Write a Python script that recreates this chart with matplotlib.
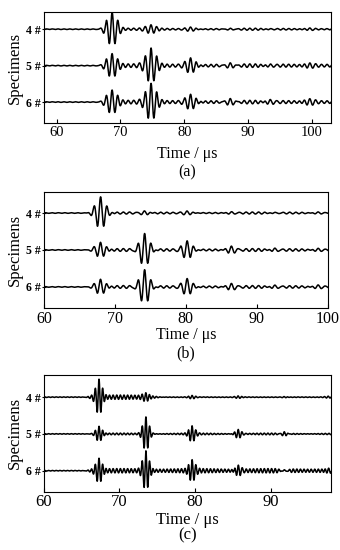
import numpy as np
import matplotlib
matplotlib.use("Agg")
import matplotlib.pyplot as plt

plt.rcParams['font.family'] = ['Liberation Serif', 'DejaVu Serif']

specimens = ['4 #', '5 #', '6 #']
panel_tags = ['(a)', '(b)', '(c)']
x_limits = [(58, 103), (60, 100), (60, 98)]
x_ticks = [[60, 70, 80, 90, 100], [60, 70, 80, 90, 100], [60, 70, 80, 90]]

# echo arrival times (us)
echo_times_a = [68.7, 74.8, 81.0, 87.2, 93.4, 99.6]
echo_times_b = [68.0, 74.2, 80.2, 86.4, 92.5, 98.6]
echo_times_c = [67.3, 73.5, 79.6, 85.7, 91.8, 97.6]

# echo amplitudes per specimen (4#, 5#, 6#), in trace-spacing units
amp_a_4 = [0.45, 0.10, 0.06, 0.05, 0.03, 0.03]
amp_a_5 = [0.30, 0.45, 0.22, 0.12, 0.07, 0.06]
amp_a_6 = [0.30, 0.48, 0.22, 0.14, 0.10, 0.08]

amp_b_4 = [0.45, 0.08, 0.06, 0.05, 0.04, 0.04]
amp_b_5 = [0.22, 0.48, 0.26, 0.13, 0.08, 0.06]
amp_b_6 = [0.22, 0.50, 0.24, 0.12, 0.08, 0.07]

amp_c_4 = [0.45, 0.08, 0.04, 0.03, 0.02, 0.02]
amp_c_5 = [0.20, 0.45, 0.20, 0.12, 0.08, 0.00]
amp_c_6 = [0.30, 0.50, 0.25, 0.15, 0.08, 0.05]

# small ripple level between echoes, and time where it fades (us)
ripple_a = [0.02, 0.04, 0.04]
ripple_b = [0.02, 0.03, 0.03]
ripple_c = [0.05, 0.015, 0.05]
ripple_end_a = [110, 110, 110]
ripple_end_b = [110, 110, 110]
ripple_end_c = [75, 110, 110]

freq_mhz = [1.1, 1.1, 2.0]
packet_width = [1.1, 1.0, 0.55]

panels = [
    (echo_times_a, [amp_a_4, amp_a_5, amp_a_6], ripple_a, ripple_end_a),
    (echo_times_b, [amp_b_4, amp_b_5, amp_b_6], ripple_b, ripple_end_b),
    (echo_times_c, [amp_c_4, amp_c_5, amp_c_6], ripple_c, ripple_end_c),
]

axes_rects = [
    [0.129, 0.776, 0.845, 0.202],
    [0.129, 0.440, 0.835, 0.211],
    [0.129, 0.106, 0.845, 0.212],
]
y_limits = [(0.42, 3.47), (0.43, 3.57), (0.43, 3.60)]
tag_y = [0.687, 0.358, 0.027]
tick_size = [10.5, 11.5, 12]
label_size = [11.5, 11.5, 12]
label_pad = [5, 0, 1]

fig = plt.figure(figsize=(3.4, 5.5), dpi=100)

for k, (times, amps, ripple, r_end) in enumerate(panels):
    ax = fig.add_axes(axes_rects[k])
    t = np.linspace(x_limits[k][0], x_limits[k][1], 6000)
    f = freq_mhz[k]
    w = packet_width[k]
    for i, name in enumerate(specimens):
        sig = np.zeros_like(t)
        for t0, a in zip(times, amps[i]):
            sig += a * np.exp(-((t - t0) / w) ** 2) * np.cos(2 * np.pi * f * (t - t0))
        # low ripple after first arrival
        onset = 1 / (1 + np.exp(-(t - (times[0] - 1.5)) * 4))
        fade = 1 / (1 + np.exp((t - r_end[i]) * 2))
        sig += ripple[i] * onset * fade * np.sin(2 * np.pi * f * t * 1.05)
        sig += 0.008 * np.sin(2 * np.pi * f * t)
        ax.plot(t, 3 - i + sig, color='black', lw=1.1)

    ax.set_xlim(x_limits[k])
    ax.set_ylim(y_limits[k])
    ax.set_xticks(x_ticks[k])
    ax.set_yticks([3, 2, 1])
    ax.set_yticklabels(specimens, fontweight='bold', fontsize=8.5)
    ax.tick_params(axis='x', direction='in', length=3, labelsize=tick_size[k], pad=2)
    ax.tick_params(axis='y', direction='inout', length=3, pad=1)
    ax.set_xlabel('Time / μs', fontsize=label_size[k], labelpad=label_pad[k])
    ax.set_ylabel('Specimens', fontsize=12, labelpad=2)
    for s in ax.spines.values():
        s.set_linewidth(0.8)
    fig.text(axes_rects[k][0] + axes_rects[k][2] / 2, tag_y[k], panel_tags[k],
             ha='center', va='center', fontsize=label_size[k])

fig.savefig('out.png', dpi=100)
